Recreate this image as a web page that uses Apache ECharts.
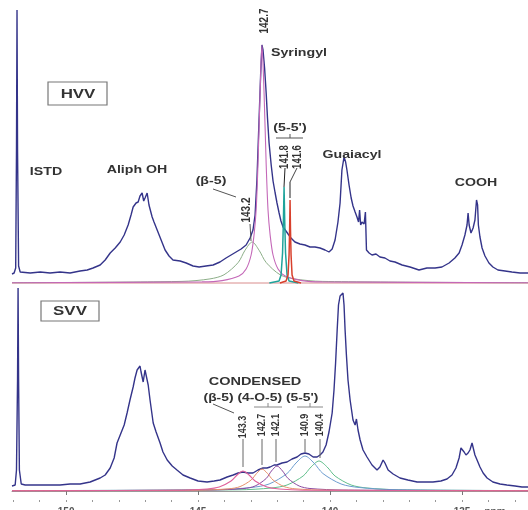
<!DOCTYPE html>
<html><head><meta charset="utf-8">
<script src="https://cdn.jsdelivr.net/npm/echarts@6/dist/echarts.min.js"></script>
<style>html,body{margin:0;padding:0;background:#fff}#c{width:528px;height:510px}</style>
</head><body><div id="c"></div>
<script>
// ---- axis ticks (ppm) ----
const majorTicks = [150, 145, 140, 135];
const minorTicks = [133,134,135,136,137,138,139,140,141,142,143,144,145,146,147,148,149,150,151,152];

// ---- HVV spectrum [ppm, intensity] ----
const hvvSpectrum = [[152.05,9],[151.97,10],[151.91,15],[151.88,133],[151.86,273],[151.84,133],[151.80,17],[151.74,11],[151.36,10],[150.98,11],[150.61,10],[150.23,11],[149.85,10],[149.47,12],[149.20,13],[148.98,15],[148.71,18],[148.52,23],[148.33,30],[148.14,35],[147.95,41],[147.80,48],[147.65,58],[147.54,68],[147.46,76],[147.35,80],[147.27,81],[147.20,87],[147.12,90],[147.06,82],[147.01,85],[146.93,90],[146.86,78],[146.74,66],[146.67,61],[146.55,53],[146.40,43],[146.25,33],[146.10,27],[145.95,23],[145.68,22],[145.45,20],[145.19,17],[144.96,16],[144.70,17],[144.43,18],[144.17,21],[143.94,25],[143.75,28],[143.56,31],[143.37,34],[143.18,38],[143.03,45],[142.92,53],[142.84,68],[142.77,103],[142.69,163],[142.63,208],[142.58,238],[142.54,233],[142.48,215],[142.42,190],[142.37,165],[142.31,140],[142.23,118],[142.16,102],[142.08,90],[142.01,80],[141.93,70],[141.86,62],[141.78,56],[141.72,54],[141.67,52],[141.59,49],[141.48,45],[141.33,41],[141.14,39],[140.95,38],[140.76,36],[140.57,36],[140.38,35],[140.19,33],[140.04,31],[139.92,34],[139.81,43],[139.70,61],[139.62,80],[139.55,113],[139.47,126],[139.41,121],[139.36,113],[139.28,98],[139.20,85],[139.13,77],[139.05,71],[138.98,66],[138.92,61],[138.88,73],[138.84,58],[138.79,61],[138.71,59],[138.66,71],[138.62,33],[138.52,30],[138.41,28],[138.26,29],[138.11,26],[137.92,25],[137.73,22],[137.54,21],[137.27,18],[136.97,16],[136.63,13],[136.33,15],[136.02,15],[135.76,16],[135.49,20],[135.27,25],[135.11,30],[135.00,38],[134.89,48],[134.81,58],[134.77,70],[134.73,58],[134.66,50],[134.58,55],[134.51,63],[134.45,83],[134.41,78],[134.38,58],[134.32,46],[134.24,35],[134.13,27],[133.98,20],[133.83,16],[133.64,13],[133.37,12],[133.11,11],[132.80,10],[132.50,10]];

// ---- HVV deconvolution fits ----
const hvvFitBeta5 = [[152.05,0.3],[145.61,1.6],[144.55,4.1],[144.02,8.2],[143.48,20.5],[143.22,32.8],[142.95,41],[142.69,32.8],[142.42,20.5],[141.89,8.2],[141.36,4.1],[140.30,1.6],[132.5,0.3]];
const hvvFitSyringyl = [[152.05,0.3],[144.85,1.1],[144.09,2.4],[143.45,7],[143.18,14],[142.99,28],[142.88,48],[142.80,73],[142.73,119],[142.65,190],[142.58,238],[142.50,190],[142.42,119],[142.35,73],[142.27,48],[142.16,28],[141.97,14],[141.70,7],[141.06,2.4],[140.30,1.1],[132.5,0.3]];
const hvvFit1418 = [[142.3,0],[141.932,2],[141.856,8],[141.799,30],[141.769,60],[141.742,96],[141.716,60],[141.686,30],[141.629,8],[141.553,2],[141.2,0]];
const hvvFit1416 = [[141.9,0],[141.667,2],[141.591,8],[141.553,28],[141.530,55],[141.515,83],[141.500,55],[141.477,28],[141.439,8],[141.364,2],[141.1,0]];
const hvvBaseline = [[152.05,0],[132.5,0]];

// ---- SVV spectrum ----
const svvSpectrum = [[152.05,5],[151.93,6],[151.88,21],[151.84,111],[151.82,203],[151.80,111],[151.77,21],[151.70,7],[151.55,6],[150.98,6],[150.23,6],[149.85,7],[149.47,7],[149.09,9],[148.71,13],[148.52,16],[148.33,23],[148.18,33],[148.07,48],[147.95,56],[147.80,66],[147.69,78],[147.58,91],[147.46,104],[147.39,113],[147.31,121],[147.20,125],[147.16,119],[147.08,109],[147.01,121],[146.95,119],[146.89,106],[146.82,91],[146.70,68],[146.59,59],[146.44,48],[146.33,39],[146.17,31],[145.98,25],[145.80,21],[145.57,16],[145.30,13],[145.00,10],[144.66,9],[144.39,10],[144.17,11],[143.90,14],[143.67,16],[143.48,18],[143.30,19],[143.11,18],[142.92,18],[142.73,21],[142.54,23],[142.39,23],[142.27,24],[142.12,26],[142.01,26],[141.82,28],[141.63,29],[141.44,32],[141.25,34],[141.10,37],[140.95,38],[140.80,37],[140.64,34],[140.49,34],[140.38,36],[140.27,39],[140.15,46],[140.04,59],[139.92,78],[139.85,101],[139.79,128],[139.73,161],[139.68,186],[139.62,195],[139.56,197],[139.51,198],[139.47,186],[139.43,161],[139.38,136],[139.32,111],[139.24,91],[139.13,71],[139.05,66],[139.00,72],[138.94,61],[138.86,51],[138.75,41],[138.60,34],[138.41,26],[138.22,21],[138.11,24],[137.99,31],[137.92,28],[137.80,21],[137.61,17],[137.35,13],[137.05,11],[136.70,9],[136.40,9],[136.10,9],[135.80,10],[135.57,12],[135.38,16],[135.23,23],[135.11,33],[135.04,43],[134.98,45],[134.92,39],[134.85,36],[134.77,38],[134.70,41],[134.62,48],[134.56,46],[134.51,36],[134.43,31],[134.32,24],[134.20,18],[134.05,13],[133.83,9],[133.56,7],[133.30,6],[132.99,5],[132.73,4],[132.50,4]];

// ---- SVV condensed fits ----
const svvFit1404 = [[152.05,0.4],[143.45,1.2],[142.23,3],[141.63,6],[141.02,15],[140.72,24],[140.42,30],[140.11,24],[139.81,15],[139.20,6],[138.60,3],[137.39,1.2],[132.5,0.4]];
const svvFit1409 = [[152.05,0.4],[144.36,1.3],[142.99,3.5],[142.31,7],[141.63,17.5],[141.29,28],[140.95,35],[140.61,28],[140.27,17.5],[139.58,7],[138.90,3.5],[137.54,1.3],[132.5,0.4]];
const svvFit1421 = [[152.05,0.3],[144.51,1],[143.26,2.5],[142.84,5],[142.42,12.5],[142.22,20],[142.01,25],[141.80,20],[141.59,12.5],[141.17,5],[140.76,2.5],[139.51,1],[132.5,0.3]];
const svvFit1427 = [[152.05,0.3],[145.08,0.8],[143.83,2.2],[143.41,4.4],[142.99,11],[142.78,17.6],[142.58,22],[142.37,17.6],[142.16,11],[141.74,4.4],[141.33,2.2],[140.08,0.8],[132.5,0.3]];
const svvFit1433 = [[152.05,0.3],[145.57,0.8],[144.66,2],[144.20,4],[143.75,10],[143.52,16],[143.30,20],[143.07,16],[142.84,10],[142.39,4],[141.93,2],[141.02,0.8],[132.5,0.3]];

const chart = echarts.init(document.getElementById('c'), null, {renderer: 'canvas'});
const FONT = '"Liberation Sans", Arial, sans-serif';
const TXT = '#333';

function ln(data, panel, color, width, smooth, z) {
  return {type: 'line', xAxisIndex: panel, yAxisIndex: panel, data: data, showSymbol: false, symbol: 'none',
    smooth: smooth, silent: true, z: z, clip: true, animation: false,
    lineStyle: {color: color, width: width}};
}
function T(text, x, y, size, sx) {
  return {type: 'text', x: x, y: y, scaleX: sx || 1.35, z: 100,
    style: {text: text, font: 'bold ' + (size || 10.5) + 'px ' + FONT, fill: TXT,
      align: 'center', verticalAlign: 'middle', textAlign: 'center', textVerticalAlign: 'middle'}};
}
function R(text, x, y, size) {
  return {type: 'text', x: x, y: y, rotation: Math.PI / 2, scaleY: 1.25, z: 100,
    style: {text: text, font: 'bold ' + (size || 9.5) + 'px ' + FONT, fill: TXT,
      align: 'center', verticalAlign: 'middle', textAlign: 'center', textVerticalAlign: 'middle'}};
}
function L(x1, y1, x2, y2, c) {
  return {type: 'line', z: 99, shape: {x1: x1, y1: y1, x2: x2, y2: y2}, style: {stroke: c || '#555', lineWidth: 1}};
}
function Box(x, y, w, h) {
  return {type: 'rect', z: 99, shape: {x: x, y: y, width: w, height: h}, style: {fill: 'none', stroke: '#777', lineWidth: 1.2}};
}

const xBase = {type: 'value', min: 132.5, max: 152.05, inverse: true, splitLine: {show: false}};

chart.setOption({
  animation: false,
  backgroundColor: '#fff',
  grid: [
    {left: 12, right: 0, top: 0, height: 285, containLabel: false, outerBoundsMode: 'none'},
    {left: 12, right: 0, top: 283, bottom: 10, containLabel: false, outerBoundsMode: 'none'}
  ],
  xAxis: [
    Object.assign({}, xBase, {gridIndex: 0, show: false}),
    Object.assign({}, xBase, {gridIndex: 1, position: 'bottom',
      axisLine: {show: true, lineStyle: {color: '#9a9a9a', width: 1}},
      axisTick: {show: true, customValues: majorTicks, length: 4, inside: false, lineStyle: {color: '#777'}},
      axisLabel: {show: true, customValues: majorTicks, margin: 7, color: '#555', fontSize: 10, fontFamily: FONT, fontWeight: 'bold'}}),
    Object.assign({}, xBase, {gridIndex: 1, position: 'bottom',
      axisLine: {show: false},
      axisTick: {show: true, customValues: minorTicks, length: 2, lineStyle: {color: '#999'}},
      axisLabel: {show: false}})
  ],
  yAxis: [
    {type: 'value', gridIndex: 0, min: -2, max: 283, show: false, splitLine: {show: false}},
    {type: 'value', gridIndex: 1, min: -9, max: 208, show: false, splitLine: {show: false}}
  ],
  series: [
    ln(hvvBaseline, 0, '#d98c8c', 1, false, 1),
    ln(hvvSpectrum, 0, '#34348a', 1.4, false, 2),
    ln(hvvFitBeta5, 0, '#8cae88', 1, 0.3, 3),
    ln(hvvFitSyringyl, 0, '#c468b8', 1.1, 0.3, 3),
    ln(hvvFit1418, 0, '#1fa39b', 1.5, false, 4),
    ln(hvvFit1416, 0, '#d8402c', 1.5, false, 4),
    ln(svvSpectrum, 1, '#34348a', 1.4, false, 2),
    ln(svvFit1404, 1, '#62bf8c', 1, 0.3, 3),
    ln(svvFit1409, 1, '#6c9ccf', 1, 0.3, 3),
    ln(svvFit1421, 1, '#8c4aa0', 1, 0.3, 3),
    ln(svvFit1427, 1, '#e6906a', 1, 0.3, 3),
    ln(svvFit1433, 1, '#e0609a', 1.1, 0.3, 3)
  ],
  graphic: [
    // top panel
    Box(48, 82, 59, 23), T('HVV', 78, 94, 13, 1.3),
    T('ISTD', 46, 172), T('Aliph OH', 137, 170), T('(β-5)', 211, 181),
    L(213, 189, 236, 197),
    R('143.2', 247, 210, 10), L(250, 224, 251, 241),
    R('142.7', 265, 21, 10),
    T('Syringyl', 299, 53),
    T("(5-5')", 290, 128), L(276, 138, 303, 138), L(290, 134, 290, 138),
    R('141.8', 285, 157), R('141.6', 298, 157),
    L(285, 168, 284, 187, '#222'), L(297, 168, 290, 182, '#444'), L(290, 182, 290, 198, '#222'),
    T('Guaiacyl', 352, 155), T('COOH', 476, 183),
    // bottom panel
    Box(41, 301, 58, 20), T('SVV', 70, 311, 13, 1.3),
    T('CONDENSED', 255, 382, 10.5, 1.38),
    T("(β-5) (4-O-5) (5-5')", 261, 398, 10.5, 1.32),
    L(213, 404, 234, 413),
    L(254, 407, 282, 407, '#888'), L(268, 403, 268, 407, '#888'),
    L(297, 407, 323, 407, '#888'), L(310, 403, 310, 407, '#888'),
    R('143.3', 243, 427, 9), R('142.7', 262, 425, 9), R('142.1', 276, 425, 9), R('140.9', 305, 425, 9), R('140.4', 320, 425, 9),
    L(243, 439, 243, 467, '#666'), L(262, 439, 262, 465, '#666'), L(276, 439, 276, 462, '#666'),
    L(305, 439, 305, 452, '#666'), L(320, 439, 320, 458, '#666'),
    {type: 'text', x: 495, y: 507, z: 100, style: {text: 'ppm', font: 'bold 10px ' + FONT, fill: '#555', align: 'center', verticalAlign: 'top', textAlign: 'center', textVerticalAlign: 'top'}}
  ]
});
</script>
</body></html>
